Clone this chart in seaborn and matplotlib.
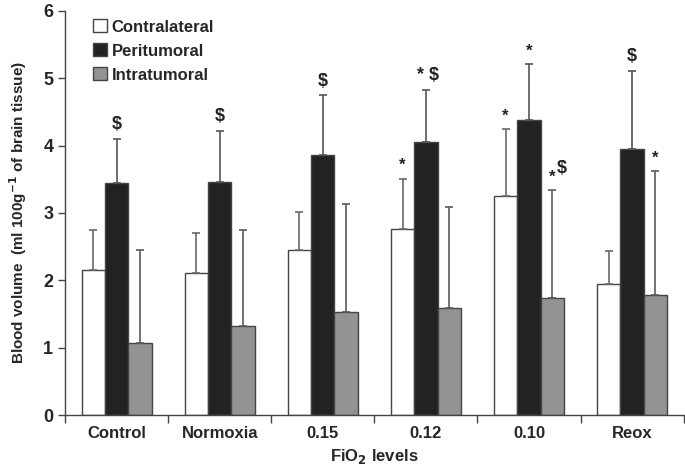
import numpy as np
import pandas as pd
import matplotlib
matplotlib.use('Agg')
import matplotlib.pyplot as plt
import seaborn as sns

levels = ['Control', 'Normoxia', '0.15', '0.12', '0.10', 'Reox']
regions = ['Contralateral', 'Peritumoral', 'Intratumoral']

contralateral = [2.15, 2.11, 2.45, 2.76, 3.25, 1.95]
peritumoral = [3.45, 3.46, 3.86, 4.05, 4.38, 3.95]
intratumoral = [1.07, 1.32, 1.53, 1.59, 1.74, 1.78]

contralateral_sd = [0.60, 0.59, 0.56, 0.75, 0.99, 0.49]
peritumoral_sd = [0.65, 0.76, 0.89, 0.78, 0.83, 1.16]
intratumoral_sd = [1.38, 1.43, 1.60, 1.50, 1.60, 1.84]

# significance marks above each bar
contralateral_marks = ['', '', '', '*', '*', '']
peritumoral_marks = ['$', '$', '$', '* $', '*', '$']
intratumoral_marks = ['', '', '', '', '* $', '*']

df = pd.DataFrame({
    'Level': levels * 3,
    'Region': [r for r in regions for _ in levels],
    'Volume': contralateral + peritumoral + intratumoral,
})
sds = [contralateral_sd, peritumoral_sd, intratumoral_sd]
marks = [contralateral_marks, peritumoral_marks, intratumoral_marks]

sns.set_style('ticks')
plt.rcParams['font.family'] = ['Liberation Sans', 'DejaVu Sans']
plt.rcParams['font.weight'] = 'bold'

fig, ax = plt.subplots(figsize=(6.85, 4.7), dpi=100)
fig.subplots_adjust(left=0.095, right=0.998, bottom=0.117, top=0.977)

palette = ['white', '#222222', '#939393']
sns.barplot(data=df, x='Level', y='Volume', hue='Region', order=levels,
            hue_order=regions, palette=palette, width=0.68, errorbar=None,
            edgecolor='#444444', linewidth=1.0, ax=ax)

err_colors = ['#6a6a6a', '#555555', '#5a5a5a']
bar_conts = list(ax.containers)
for i, cont in enumerate(bar_conts):
    for j, bar in enumerate(cont):
        x = bar.get_x() + bar.get_width() / 2
        h = bar.get_height()
        top = h + sds[i][j]
        ax.errorbar(x, h, yerr=[[0], [sds[i][j]]], fmt='none',
                    ecolor=err_colors[i], elinewidth=1.2, capsize=3, capthick=1.2)
        m = marks[i][j]
        if not m:
            continue
        if m == '* $' and i == 2:
            # star over the bar, dollar a bit to the right and higher
            ax.text(x, top + 0.08, '*', ha='center', va='bottom',
                    fontsize=12, fontweight='bold', color='#222222')
            ax.text(x + 0.09, top + 0.2, '$', ha='center', va='bottom',
                    fontsize=13, fontweight='bold', color='#222222')
        else:
            ax.text(x + (0.02 if m == '* $' else 0), top + 0.08, m,
                    ha='center', va='bottom', fontsize=13 if '$' in m else 12,
                    fontweight='bold', color='#222222')

ax.set_ylim(0, 6)
ax.set_xlim(-0.5, 5.5)
ax.set_yticks(range(7))
ax.set_xticks(np.arange(-0.5, 6, 1), minor=True)
ax.tick_params(axis='x', which='major', length=0, labelsize=12, pad=8)
ax.tick_params(axis='x', which='minor', length=6, width=1, color='#444444')
ax.tick_params(axis='y', length=5, width=1, labelsize=13, color='#444444')
for lab in ax.get_xticklabels() + ax.get_yticklabels():
    lab.set_fontweight('bold')
sns.despine(ax=ax)
for s in ['left', 'bottom']:
    ax.spines[s].set_color('#444444')
    ax.spines[s].set_linewidth(1.0)

ax.set_xlabel('FiO$_\\mathbf{2}$ levels', fontsize=12, fontweight='bold', labelpad=4)
ax.set_ylabel('Blood volume  (ml 100g$^{\\mathbf{-1}}$ of brain tissue)',
              fontsize=11, fontweight='bold', labelpad=10)

leg = ax.legend(loc='upper left', bbox_to_anchor=(0.035, 0.995), frameon=False,
                fontsize=12, handlelength=0.8, handleheight=0.8,
                handletextpad=0.3, labelspacing=0.53, borderaxespad=0)
for t in leg.get_texts():
    t.set_fontweight('bold')

fig.savefig('out.png', dpi=100)
